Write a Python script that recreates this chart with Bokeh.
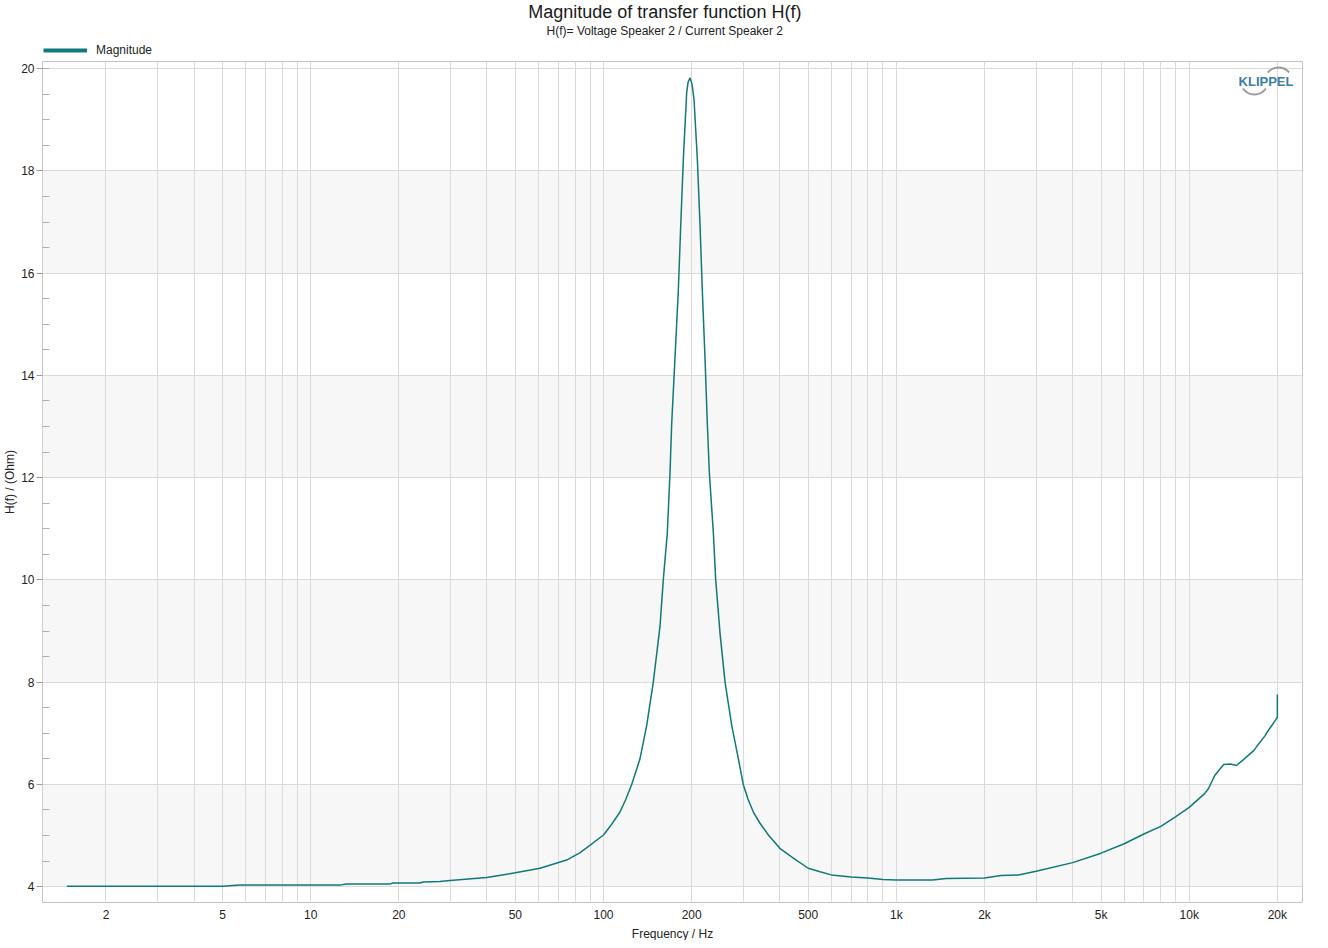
import math
from bokeh.plotting import figure
from bokeh.layouts import column
from bokeh.models import Range1d, FixedTicker, Title, Legend, LegendItem, Label
from bokeh.core.properties import value
from bokeh.embed import file_html
from bokeh.resources import INLINE

# ---------------- data ----------------
freq_hz = [1.47, 5.0, 5.72, 10, 12.56, 13.24, 18.6, 19.1, 23.6, 24.2, 27.6, 29.9,
           39.9, 50, 60.7, 74.8, 83, 87.5, 100, 106, 113.8, 119, 124.8, 133.2, 140.4, 147.9,
           155.9, 160, 165.1, 168.7, 170.9, 175.4, 180, 183.5, 187.3, 192.3, 194.5,
           197.4, 200.5, 203.7, 209.1, 213.6, 217.5, 222.1, 226.2, 229.8, 237.2,
           241.6, 249.9, 260, 274.1, 288.7, 300, 312, 324.8, 342.3, 365.6, 400, 444.8,
           500, 549, 600, 700, 800, 900, 1000, 1328, 1479, 2000, 2280, 2612, 3000,
           4000, 4972, 6000, 7000, 8000, 9000, 10000, 11290, 11640, 12240, 13110,
           13830, 14490, 15210, 16610, 16950, 18140, 18450, 20000, 20000]
magnitude_ohm = [4.01, 4.01, 4.03, 4.03, 4.03, 4.05, 4.05, 4.07, 4.07, 4.09, 4.10, 4.12,
                 4.18, 4.27, 4.36, 4.52, 4.66, 4.76, 5.01, 5.20, 5.46, 5.70, 6.00, 6.50, 7.15, 8.00,
                 9.09, 10.00, 10.91, 12.10, 13.05, 14.34, 15.64, 16.93, 18.23, 19.53, 19.74,
                 19.82, 19.70, 19.40, 18.23, 16.93, 15.64, 14.34, 13.05, 12.10, 10.91,
                 10.00, 8.96, 8.00, 7.15, 6.50, 6.00, 5.70, 5.46, 5.24, 5.01, 4.75, 4.56,
                 4.36, 4.29, 4.23, 4.19, 4.17, 4.14, 4.13, 4.13, 4.16, 4.17, 4.22, 4.23, 4.30,
                 4.47, 4.65, 4.84, 5.03, 5.18, 5.37, 5.55, 5.82, 5.92, 6.18, 6.39,
                 6.40, 6.37, 6.47, 6.66, 6.73, 6.95, 7.02, 7.31, 7.76]

x_tick_values = [2, 5, 10, 20, 50, 100, 200, 500, 1000, 2000, 5000, 10000, 20000]
x_tick_labels = ["2", "5", "10", "20", "50", "100", "200", "500", "1k", "2k", "5k", "10k", "20k"]
x_grid_values = [m * 10 ** e for e in range(0, 5) for m in range(1, 10) if 2 <= m * 10 ** e <= 20000]
y_tick_values = [4, 6, 8, 10, 12, 14, 16, 18, 20]
y_minor_values = [v + k * 0.5 for v in y_tick_values[:-1] for k in range(1, 4)] + [3.5, 20.0]
band_bottoms = [4, 8, 12, 16]
band_tops = [6, 10, 14, 18]

TITLE = "Magnitude of transfer function H(f)"
SUBTITLE = "H(f)= Voltage Speaker 2 / Current Speaker 2"
SERIES = "Magnitude"
FONT = "Liberation Sans"
TEAL = "#0f7a78"

X_START, X_END = 1.214, 24370
Y_START, Y_END = 3.69, 20.14
W = 1312
HDR_H = 58
H = 940 - HDR_H
BL, BR, BT, BB = 36, 10, 3, 30
FRAME_W, FRAME_H = 1258, 841

# ---------------- header: title, subtitle, legend ----------------
hdr = figure(width=W, height=HDR_H, x_range=Range1d(0, W), y_range=Range1d(0, HDR_H),
             output_backend="svg", toolbar_location=None, min_border=0,
             x_axis_location=None, y_axis_location=None, outline_line_color=None,
             background_fill_color="white", border_fill_color="white")
hdr.grid.visible = False
hdr.text(x=[648], y=[HDR_H - 11], text=[TITLE], text_font=value(FONT), text_font_size="18px",
         text_align="center", text_baseline="middle", text_color="#1a1a1a")
hdr.text(x=[648], y=[HDR_H - 30], text=[SUBTITLE], text_font=value(FONT), text_font_size="12px",
         text_align="center", text_baseline="middle", text_color="#222222")
legend_r = hdr.line(freq_hz, magnitude_ohm, line_color=TEAL, line_width=4, visible=False)
legend = Legend(items=[LegendItem(label=SERIES, renderers=[legend_r])],
                location=(1, 1), orientation="horizontal",
                glyph_width=44, glyph_height=14, label_height=14, label_standoff=9,
                padding=0, margin=0, border_line_color=None, background_fill_alpha=0,
                inactive_fill_alpha=0,
                label_text_font=FONT, label_text_font_size="12px", label_text_color="#222222")
hdr.add_layout(legend, "center")

# ---------------- main plot ----------------
p = figure(width=W, height=H, x_axis_type="log",
           x_range=Range1d(X_START, X_END), y_range=Range1d(Y_START, Y_END),
           output_backend="svg", toolbar_location=None, title=None,
           min_border_left=BL, min_border_right=BR, min_border_top=BT, min_border_bottom=BB,
           background_fill_color="white", border_fill_color="white",
           outline_line_color="#c4c4c4", outline_line_width=1)

p.quad(left=X_START, right=X_END, bottom=band_bottoms, top=band_tops,
       fill_color="#f7f7f7", line_color=None, level="image")

p.xgrid.ticker = FixedTicker(ticks=x_grid_values)
p.xgrid.grid_line_color = "#dadada"
p.ygrid.grid_line_color = "#dadada"

p.xaxis.ticker = FixedTicker(ticks=x_tick_values, minor_ticks=[])
p.xaxis.major_label_overrides = dict(zip(x_tick_values, x_tick_labels))
p.xaxis.major_tick_out = 0
p.xaxis.major_tick_in = 0
p.xaxis.minor_tick_out = 0
p.xaxis.major_label_standoff = 5

p.yaxis.ticker = FixedTicker(ticks=y_tick_values, minor_ticks=y_minor_values)
p.yaxis.axis_label = "H(f) / (Ohm)"
p.yaxis.major_tick_out = 6
p.yaxis.major_tick_in = 0
p.yaxis.minor_tick_in = 7
p.yaxis.minor_tick_out = 0
p.yaxis.major_tick_line_color = "#9a9a9a"
p.yaxis.minor_tick_line_color = "#b0b0b0"
p.yaxis.major_label_standoff = 2
p.yaxis.axis_label_standoff = 1

for ax in (p.xaxis, p.yaxis):
    ax.axis_line_color = None
    ax.major_label_text_font = FONT
    ax.major_label_text_font_size = "12px"
    ax.major_label_text_color = "#222222"
    ax.axis_label_text_font = FONT
    ax.axis_label_text_font_size = "12px"
    ax.axis_label_text_font_style = "normal"
    ax.axis_label_text_color = "#222222"

# x-axis label as a compact title below the tick labels
p.add_layout(Title(text="Frequency / Hz", align="center", text_font=FONT, text_font_size="12px",
                   text_font_style="normal", text_color="#222222", standoff=0), "below")

p.line(freq_hz, magnitude_ohm, line_color=TEAL, line_width=1.5)

# KLIPPEL logo (decoration), positioned relative to the frame's top-right corner
LX = math.log10(X_END) - math.log10(X_START)
def x_from_right(px):
    return 10 ** (math.log10(X_END) - px * LX / FRAME_W)
def y_from_top(px):
    return Y_END - px * (Y_END - Y_START) / FRAME_H

p.arc(x=[x_from_right(24), x_from_right(48)], y=[y_from_top(20), y_from_top(19)],
      radius=14, radius_units="screen",
      start_angle=[math.radians(40), math.radians(215)],
      end_angle=[math.radians(140), math.radians(325)],
      line_color="#9c9c9c", line_width=2)
p.add_layout(Label(x=x_from_right(9), y=y_from_top(20), text="KLIPPEL",
                   text_font=FONT, text_font_size="13px", text_font_style="bold",
                   text_color="#3b7ea6", text_align="right", text_baseline="middle"))

layout = column(hdr, p)
open("out.html", "w").write(file_html(layout, INLINE))
